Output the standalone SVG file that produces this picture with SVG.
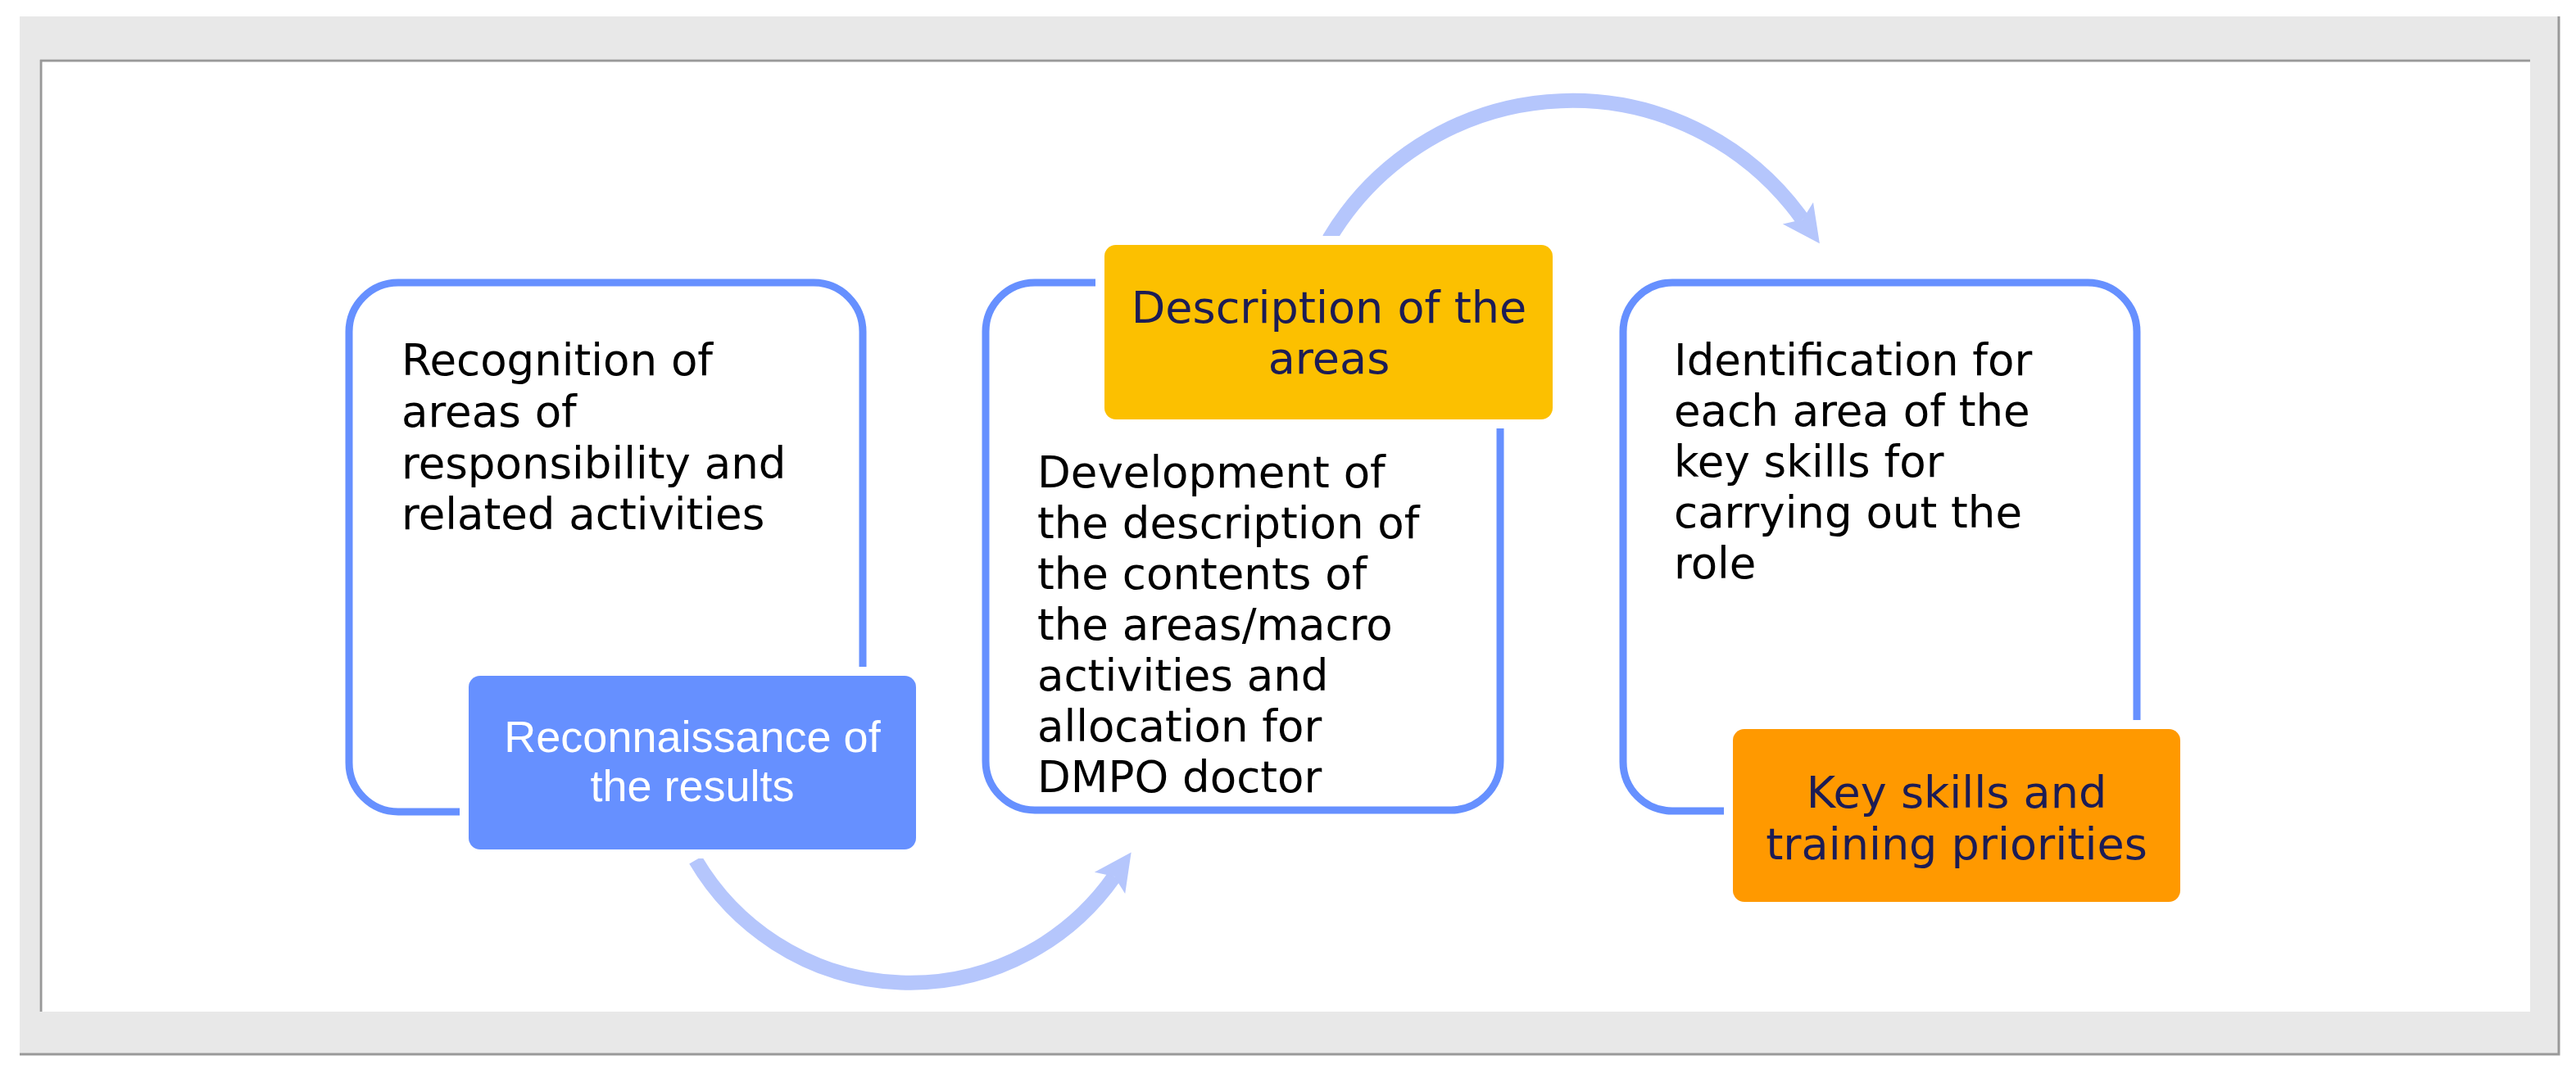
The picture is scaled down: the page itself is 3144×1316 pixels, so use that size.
<svg xmlns="http://www.w3.org/2000/svg" width="3144" height="1316" viewBox="0 0 3144 1316">
<style>
.frame{fill:none;stroke:#6690ff;stroke-width:9}
.body{font-family:"DejaVu Sans",Verdana,sans-serif;font-size:53px;fill:#000}
.head{font-family:"DejaVu Sans",Verdana,sans-serif;font-size:54px;fill:#1c1c55;text-anchor:middle}
.white{font-family:"Liberation Sans",Arial,sans-serif;font-size:54px;fill:#fff;text-anchor:middle}
.halo{stroke:#fff;stroke-width:22}
.arc{fill:none;stroke:#b5c6fc;stroke-width:18}
</style>
<defs>
<marker id="ah" markerUnits="userSpaceOnUse" markerWidth="60" markerHeight="60" viewBox="-5 -25 50 50" refX="8" refY="0" orient="auto">
<path d="M0,-19 L38,0 L0,19 L8,0 z" fill="#b5c6fc"/>
</marker>
</defs>
<rect x="0" y="0" width="3144" height="1316" fill="#fff"/>
<rect x="24" y="20" width="3100" height="1267" fill="#e8e8e8"/>
<path d="M24,1287 H3123 V20" fill="none" stroke="#999" stroke-width="3"/>
<rect x="48" y="72" width="3040" height="1163" fill="#fff"/>
<path d="M50,1235 V74 H3088" fill="none" stroke="#999" stroke-width="3"/>
<g id="connectors">
<path class="arc" d="M849,1050 A304,304 0 0 0 1360,1070" marker-end="url(#ah)"/>
<path class="arc" d="M1622,292 A345,345 0 0 1 2200,268" marker-end="url(#ah)"/>
</g>
<g id="node1">
<rect class="frame" x="426" y="345" width="627" height="646" rx="60"/>
<text class="body"><tspan x="490" y="458">Recognition of</tspan><tspan x="490" y="521">areas of</tspan><tspan x="490" y="584">responsibility and</tspan><tspan x="490" y="646">related activities</tspan></text>
</g>
<g id="node1b">
<rect class="halo" x="572" y="825" width="546" height="212" rx="14"/>
<rect x="572" y="825" width="546" height="212" rx="14" fill="#6690ff"/>
<text class="white"><tspan x="845" y="918">Reconnaissance of</tspan><tspan x="845" y="978">the results</tspan></text>
</g>
<g id="node2">
<rect class="frame" x="1203" y="345" width="628" height="644" rx="60"/>
<text class="body"><tspan x="1266" y="595">Development of</tspan><tspan x="1266" y="657">the description of</tspan><tspan x="1266" y="719">the contents of</tspan><tspan x="1266" y="781">the areas/macro</tspan><tspan x="1266" y="843">activities and</tspan><tspan x="1266" y="905">allocation for</tspan><tspan x="1266" y="967">DMPO doctor</tspan></text>
</g>
<g id="node2b">
<rect class="halo" x="1348" y="299" width="547" height="213" rx="14"/>
<rect x="1348" y="299" width="547" height="213" rx="14" fill="#fcc000"/>
<text class="head"><tspan x="1622" y="394">Description of the</tspan><tspan x="1622" y="456">areas</tspan></text>
</g>
<g id="node3">
<rect class="frame" x="1981" y="345" width="627" height="645" rx="60"/>
<text class="body"><tspan x="2043" y="458">Identification for</tspan><tspan x="2043" y="520">each area of the</tspan><tspan x="2043" y="582">key skills for</tspan><tspan x="2043" y="644">carrying out the</tspan><tspan x="2043" y="706">role</tspan></text>
</g>
<g id="node3b">
<rect class="halo" x="2115" y="890" width="546" height="211" rx="14"/>
<rect x="2115" y="890" width="546" height="211" rx="14" fill="#ff9900"/>
<text class="head"><tspan x="2388" y="986">Key skills and</tspan><tspan x="2388" y="1049">training priorities</tspan></text>
</g>
</svg>
